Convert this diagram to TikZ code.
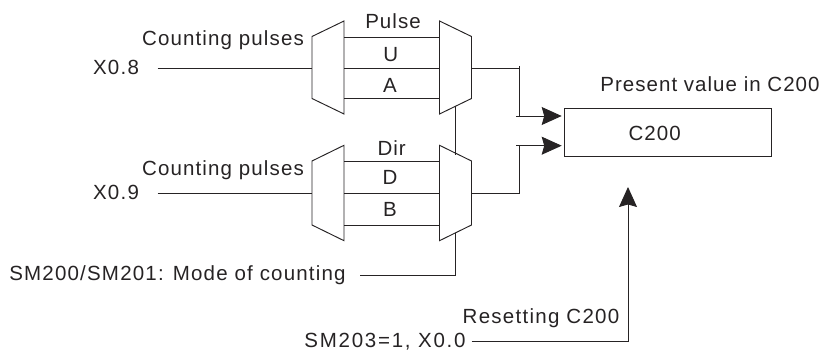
\documentclass[tikz,border=0pt]{standalone}
\usepackage{fontspec}
\setmainfont{Liberation Sans}
\usetikzlibrary{arrows.meta}
\definecolor{ink}{HTML}{262324}
\newcommand{\spaced}[2]{{\addfontfeatures{LetterSpace=#1}#2}}
\tikzset{
  wire/.style={draw=ink,line width=0.95pt},
  arrowwire/.style={wire,-{Stealth[length=20pt,width=18pt,inset=2.5pt]}},
  lab/.style={inner sep=0pt,outer sep=0pt,anchor=base,text=ink,font=\fontsize{20.5}{22}\selectfont},
  counterbox/.style={wire,rectangle,inner sep=0pt,minimum width=207.7pt,minimum height=47.7pt}
}
\begin{document}
\begin{tikzpicture}[x=1pt,y=-1pt]
\useasboundingbox (0,0) rectangle (822,352);
% multiplexer corners
\coordinate (la1) at (312,36.5); \coordinate (la2) at (344,21); \coordinate (la3) at (344,114); \coordinate (la4) at (312,98.5);
\coordinate (ra1) at (439.5,21); \coordinate (ra2) at (471.5,36.5); \coordinate (ra3) at (471.5,98.5); \coordinate (ra4) at (439.5,114);
\coordinate (lb1) at (312,161); \coordinate (lb2) at (344,145.3); \coordinate (lb3) at (344,240.7); \coordinate (lb4) at (312,225);
\coordinate (rb1) at (439.5,145.3); \coordinate (rb2) at (471.5,161); \coordinate (rb3) at (471.5,225); \coordinate (rb4) at (439.5,240.7);
\draw[wire] (la1)--(la2)--(la3)--(la4)--cycle;
\draw[wire] (ra1)--(ra2)--(ra3)--(ra4)--cycle;
\draw[wire] (lb1)--(lb2)--(lb3)--(lb4)--cycle;
\draw[wire] (rb1)--(rb2)--(rb3)--(rb4)--cycle;
% channels
\coordinate (pa1) at (344,37); \coordinate (qa1) at (439.5,37);
\coordinate (pa2) at (344,68.5); \coordinate (qa2) at (439.5,68.5);
\coordinate (pa3) at (344,98); \coordinate (qa3) at (439.5,98);
\coordinate (pb1) at (344,161.5); \coordinate (qb1) at (439.5,161.5);
\coordinate (pb2) at (344,193); \coordinate (qb2) at (439.5,193);
\coordinate (pb3) at (344,225); \coordinate (qb3) at (439.5,225);
\foreach \s in {a1,a2,a3,b1,b2,b3} \draw[wire] (p\s)--(q\s);
% inputs
\coordinate (ina) at (157.7,68.5); \coordinate (ina2) at (312,68.5);
\coordinate (inb) at (157.7,193); \coordinate (inb2) at (312,193);
\draw[wire] (ina)--(ina2);
\draw[wire] (inb)--(inb2);
% counter box
\node[counterbox] (box) at (667.85,132.15) {};
% outputs
\coordinate (oa) at (471.5,68.5); \coordinate (oat) at (519,66); \coordinate (oam) at (519,116); \coordinate (oas) at (516,116);
\coordinate (ob) at (471.5,193); \coordinate (obm) at (519,145.7); \coordinate (obs) at (516,145.7);
\coordinate (tipa) at (561.7,116); \coordinate (tipb) at (561.7,145.7);
\draw[wire] (oa)--(oat|-oa);
\draw[wire] (oat)--(oam);
\draw[arrowwire] (oas)--(tipa);
\draw[wire] (ob)--(obm|-ob)--(obm);
\draw[arrowwire] (obs)--(tipb);
% mode select
\coordinate (sa) at (455.3,106); \coordinate (sb) at (455.3,155);
\coordinate (sc) at (455.3,233); \coordinate (sd) at (455.3,275.3); \coordinate (se) at (360,275.3);
\draw[wire] (sa)--(sb);
\draw[wire] (sc)--(sd)--(se);
% reset
\coordinate (rs) at (471.7,341.7); \coordinate (rc) at (628,341.7); \coordinate (rt) at (628,187);
\draw[wire] (rs)--(rc);
\draw[arrowwire] (rc)--(rt);
% labels
\node[lab] (tpulse) at (393,29) {\spaced{5}{Pulse}};
\node[lab] (tu) at (390.7,62) {U};
\node[lab] (ta) at (390,93) {A};
\node[lab] (tdir) at (391.7,156) {\spaced{5}{Dir}};
\node[lab] (td) at (390,185) {D};
\node[lab] (tb) at (390,216.7) {B};
\node[lab] (tc1) at (223,46) {\spaced{5.5}{Counting pulses}};
\node[lab] (tc2) at (223,176) {\spaced{5.5}{Counting pulses}};
\node[lab] (tx8) at (116,75) {\spaced{6}{X0.8}};
\node[lab] (tx9) at (116,200) {\spaced{6}{X0.9}};
\node[lab] (tsm) at (177.5,280.7) {\spaced{5.8}{SM200/SM201: Mode of counting}};
\node[lab] (tres) at (541,323.3) {\spaced{6.2}{Resetting C200}};
\node[lab] (tsm3) at (385,348) {\spaced{8.5}{SM203=1, X0.0}};
\node[lab] (tpv) at (710,91.7) {\spaced{5}{Present value in C200}};
\node[lab] (tc200) at (654.7,141) {\spaced{5}{C200}};
\end{tikzpicture}
\end{document}
